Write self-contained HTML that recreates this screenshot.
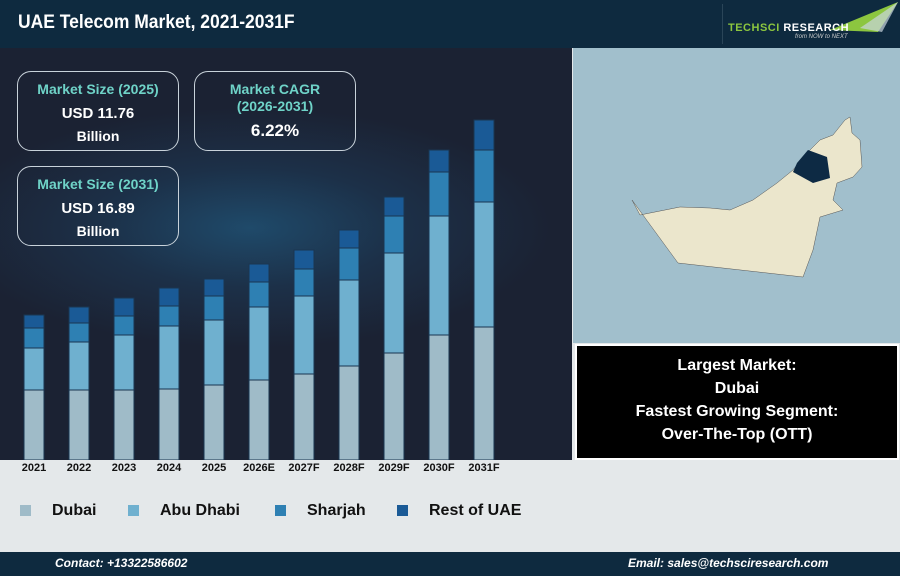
<!DOCTYPE html>
<html><head><meta charset="utf-8"><style>
body{margin:0;width:900px;height:576px;overflow:hidden;font-family:"Liberation Sans",sans-serif;background:#e4e8ea;position:relative}
.hdr{position:absolute;left:0;top:0;width:900px;height:48px;background:#0e2a3f}
.hdr h1{position:absolute;left:18px;top:12px;margin:0;color:#fff;font-size:19px;font-weight:bold;transform:scaleX(.92);transform-origin:left}
.chart{position:absolute;left:0;top:48px;width:572px;height:412px;background:radial-gradient(ellipse 300px 120px at 250px 180px,#1f4a6a 0%,#1c3048 50%,#1b2233 100%)}
.box{position:absolute;border:1.5px solid #c8d2da;border-radius:14px;text-align:center;color:#fff;font-weight:bold}
.box .t{color:#6fd3c8;font-size:14px}
.map{position:absolute;left:573px;top:48px;width:327px;height:295px;background:#a1bfcc}
.blk{position:absolute;left:575px;top:344px;background:#000;border:2px solid #fff;color:#fff;font-weight:bold;font-size:16px;text-align:center;line-height:23px;padding-top:8px;box-sizing:border-box;width:324px;height:116px}
.lab{position:absolute;top:462px;font-size:11px;font-weight:bold;color:#111;width:50px;text-align:center}
.leg{position:absolute;top:502px;font-size:16px;font-weight:bold;color:#111}
.leg i{display:inline-block;width:11px;height:11px;margin-right:21px;vertical-align:-1px}
.ftr{position:absolute;left:0;top:552px;width:900px;height:24px;background:#0e2a3f;color:#fff;font-size:12px;font-weight:bold;font-style:italic}
</style></head><body>
<div class="hdr"><h1>UAE Telecom Market, 2021-2031F</h1>
<div style="position:absolute;left:722px;top:4px;width:1px;height:40px;background:#2a4558"></div>
<svg style="position:absolute;left:800px;top:2px" width="100" height="36"><polygon points="30,28 98,0 78,30" fill="#8cc63f"/><polygon points="60,26 98,0 82,30" fill="#c9d6de" opacity=".7"/></svg>
<div style="position:absolute;left:728px;top:22px;font-size:11px;font-weight:bold;color:#8cc63f;letter-spacing:.5px">TECHSCI <span style="color:#fff">RESEARCH</span></div>
<div style="position:absolute;left:795px;top:34px;font-size:6px;font-style:italic;color:#ccc">from NOW to NEXT</div>
</div>
<div class="chart"></div>
<div class="box" style="left:17px;top:71px;width:160px;height:78px"><div class="t" style="margin-top:9px">Market Size (2025)</div><div style="font-size:15px;margin-top:8px">USD 11.76</div><div style="font-size:14px;margin-top:6px">Billion</div></div>
<div class="box" style="left:194px;top:71px;width:160px;height:78px"><div class="t" style="margin-top:9px;line-height:17px">Market CAGR<br>(2026-2031)</div><div style="font-size:17px;margin-top:6px">6.22%</div></div>
<div class="box" style="left:17px;top:166px;width:160px;height:78px"><div class="t" style="margin-top:9px">Market Size (2031)</div><div style="font-size:15px;margin-top:8px">USD 16.89</div><div style="font-size:14px;margin-top:6px">Billion</div></div>
<svg style="position:absolute;left:0;top:0" width="572" height="460">
<g stroke="#1a3550" stroke-width="1">
<rect x="24" y="390" width="20" height="70" fill="#9fbbc8"/><rect x="24" y="348" width="20" height="42" fill="#6fb0cf"/><rect x="24" y="328" width="20" height="20" fill="#2e80b3"/><rect x="24" y="315" width="20" height="13" fill="#1a5a96"/>
<rect x="69" y="390" width="20" height="70" fill="#9fbbc8"/><rect x="69" y="342" width="20" height="48" fill="#6fb0cf"/><rect x="69" y="323" width="20" height="19" fill="#2e80b3"/><rect x="69" y="307" width="20" height="16" fill="#1a5a96"/>
<rect x="114" y="390" width="20" height="70" fill="#9fbbc8"/><rect x="114" y="335" width="20" height="55" fill="#6fb0cf"/><rect x="114" y="316" width="20" height="19" fill="#2e80b3"/><rect x="114" y="298" width="20" height="18" fill="#1a5a96"/>
<rect x="159" y="389" width="20" height="71" fill="#9fbbc8"/><rect x="159" y="326" width="20" height="63" fill="#6fb0cf"/><rect x="159" y="306" width="20" height="20" fill="#2e80b3"/><rect x="159" y="288" width="20" height="18" fill="#1a5a96"/>
<rect x="204" y="385" width="20" height="75" fill="#9fbbc8"/><rect x="204" y="320" width="20" height="65" fill="#6fb0cf"/><rect x="204" y="296" width="20" height="24" fill="#2e80b3"/><rect x="204" y="279" width="20" height="17" fill="#1a5a96"/>
<rect x="249" y="380" width="20" height="80" fill="#9fbbc8"/><rect x="249" y="307" width="20" height="73" fill="#6fb0cf"/><rect x="249" y="282" width="20" height="25" fill="#2e80b3"/><rect x="249" y="264" width="20" height="18" fill="#1a5a96"/>
<rect x="294" y="374" width="20" height="86" fill="#9fbbc8"/><rect x="294" y="296" width="20" height="78" fill="#6fb0cf"/><rect x="294" y="269" width="20" height="27" fill="#2e80b3"/><rect x="294" y="250" width="20" height="19" fill="#1a5a96"/>
<rect x="339" y="366" width="20" height="94" fill="#9fbbc8"/><rect x="339" y="280" width="20" height="86" fill="#6fb0cf"/><rect x="339" y="248" width="20" height="32" fill="#2e80b3"/><rect x="339" y="230" width="20" height="18" fill="#1a5a96"/>
<rect x="384" y="353" width="20" height="107" fill="#9fbbc8"/><rect x="384" y="253" width="20" height="100" fill="#6fb0cf"/><rect x="384" y="216" width="20" height="37" fill="#2e80b3"/><rect x="384" y="197" width="20" height="19" fill="#1a5a96"/>
<rect x="429" y="335" width="20" height="125" fill="#9fbbc8"/><rect x="429" y="216" width="20" height="119" fill="#6fb0cf"/><rect x="429" y="172" width="20" height="44" fill="#2e80b3"/><rect x="429" y="150" width="20" height="22" fill="#1a5a96"/>
<rect x="474" y="327" width="20" height="133" fill="#9fbbc8"/><rect x="474" y="202" width="20" height="125" fill="#6fb0cf"/><rect x="474" y="150" width="20" height="52" fill="#2e80b3"/><rect x="474" y="120" width="20" height="30" fill="#1a5a96"/>
</g></svg>
<div class="lab" style="left:9px">2021</div><div class="lab" style="left:54px">2022</div><div class="lab" style="left:99px">2023</div><div class="lab" style="left:144px">2024</div><div class="lab" style="left:189px">2025</div><div class="lab" style="left:234px">2026E</div><div class="lab" style="left:279px">2027F</div><div class="lab" style="left:324px">2028F</div><div class="lab" style="left:369px">2029F</div><div class="lab" style="left:414px">2030F</div><div class="lab" style="left:459px">2031F</div>
<div class="map"><svg width="327" height="295" style="position:absolute;left:0;top:0">
<polygon points="59,152 67,167 107,159 137,160 157,162 180,152 204,135 220,122 234,105 247,92 260,87 272,72 277,69 279,85 287,92 289,119 280,129 264,135 260,152 270,162 247,169 240,202 230,229 105,215" fill="#ebe6cc" stroke="#555" stroke-width=".5"/>
<polygon points="224,115 235,102 254,109 257,130 240,135 220,124" fill="#0d2a44"/>
</svg></div>
<div class="blk">Largest Market:<br>Dubai<br>Fastest Growing Segment:<br>Over-The-Top (OTT)</div>
<div class="leg" style="left:20px"><i style="background:#9fbbc8"></i>Dubai</div>
<div class="leg" style="left:128px"><i style="background:#6fb0cf"></i>Abu Dhabi</div>
<div class="leg" style="left:275px"><i style="background:#2e80b3"></i>Sharjah</div>
<div class="leg" style="left:397px"><i style="background:#1a5a96"></i>Rest of UAE</div>
<div class="ftr"><span style="position:absolute;left:55px;top:4px">Contact: +13322586602</span><span style="position:absolute;left:628px;top:4px">Email: sales@techsciresearch.com</span></div>
</body></html>
